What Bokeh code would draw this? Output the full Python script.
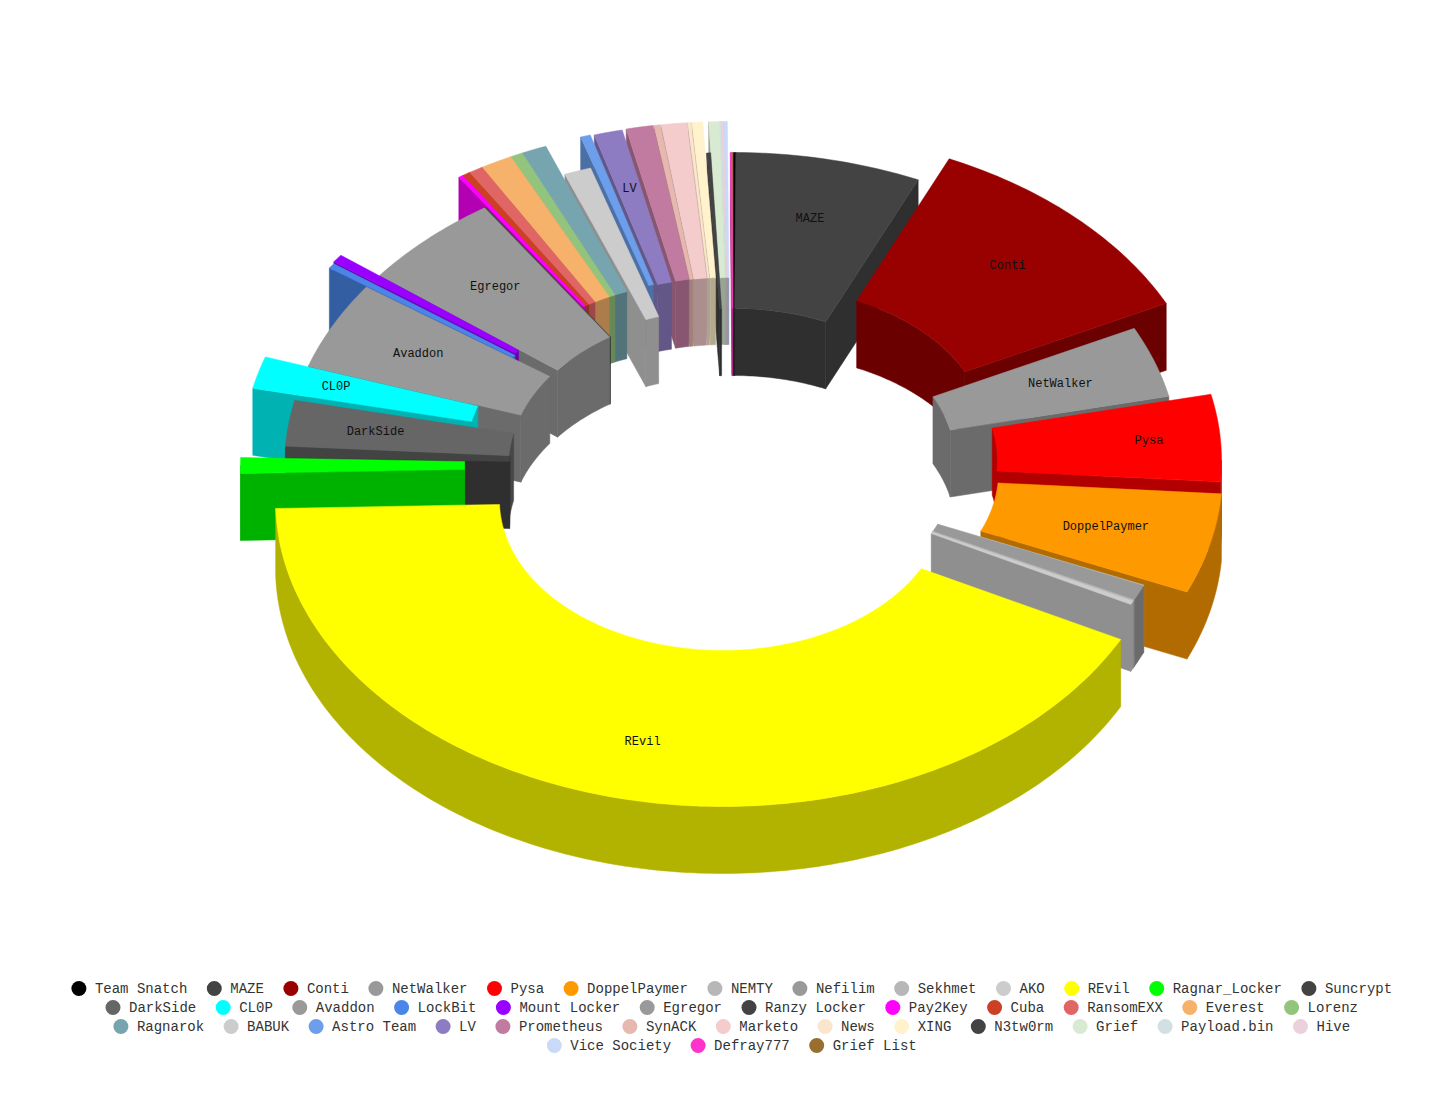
import math
from bokeh.plotting import figure
from bokeh.models import Range1d
from bokeh.core.properties import value
from bokeh.embed import file_html
from bokeh.resources import INLINE

# ---------- data ----------
names = ["Team Snatch", "MAZE", "Conti", "NetWalker", "Pysa", "DoppelPaymer", "NEMTY", "Nefilim", "Sekhmet", "AKO",
         "REvil", "Ragnar_Locker", "Suncrypt", "DarkSide", "CL0P", "Avaddon", "LockBit", "Mount Locker", "Egregor",
         "Ranzy Locker", "Pay2Key", "Cuba", "RansomEXX", "Everest", "Lorenz", "Ragnarok", "BABUK", "Astro Team", "LV",
         "Prometheus", "SynACK", "Marketo", "News", "XING", "N3tw0rm", "Grief", "Payload.bin", "Hive", "Vice Society",
         "Defray777", "Grief List"]
values = [0.3, 24.1, 39.6, 13.5, 16.5, 19.0, 0.2, 2.8, 0.3, 0.7,
          151.5, 3.0, 2.0, 8.8, 6.1, 16.6, 1.0, 1.5, 18.5,
          0.2, 0.6, 1.0, 1.9, 4.2, 1.6, 3.3, 3.5, 1.3, 3.7,
          3.5, 0.8, 3.3, 0.4, 1.4, 0.5, 1.4, 0.2, 0.3, 0.5, 0.2, 0.2]
colors = ["#000000", "#434343", "#990000", "#999999", "#ff0000", "#ff9900", "#b7b7b7", "#999999", "#b7b7b7", "#cccccc",
          "#ffff00", "#00ff00", "#434343", "#666666", "#00ffff", "#999999", "#4a86e8", "#9900ff", "#999999",
          "#434343", "#ff00ff", "#cc4125", "#e06666", "#f6b26b", "#93c47d", "#76a5af", "#cccccc", "#6d9eeb", "#8e7cc3",
          "#c27ba0", "#e6b8af", "#f4cccc", "#fce5cd", "#fff2cc", "#434343", "#d9ead3", "#d0e0e3", "#ead1dc", "#c9daf8",
          "#ff33cc", "#996f2f"]
# per-slice displacement of the exploded pieces (horizontal, vertical)
shift_x = [10, 10, 41, 9, 51, 52, 9, 9, 9, 9,
           -1, -36, 9, 8, -34, 9, -28, -28, 11,
           11, -16, -16, -16, -16, -16, -16, 3, -7, -3,
           1, 2, 3, 4, 5, 9, 7, 7, 7, 7, 10, 10]
shift_y = [-40, -40, -61, -36, -38, -26, -33, -33, -33, -33,
           2, -33, -33, -33, -45, -36, -55, -57, -37,
           -37, -67, -67, -67, -67, -67, -67, -39, -70, -70,
           -71, -71, -71, -71, -71, -40, -71, -71, -71, -71, -40, -40]
labelled = {"MAZE": 0.80, "Conti": 0.78, "NetWalker": 0.777, "Pysa": 0.84, "DoppelPaymer": 0.76, "REvil": 0.81,
            "DarkSide": 0.804, "CL0P": 0.82, "Avaddon": 0.787, "Egregor": 0.781, "LV": 0.81}
legend_rows = [13, 12, 13, 3]

# ---------- layout constants ----------
CX, CY = 723, 498
AO, BO, AI, BI = 447, 306, 223, 150
H = 67
MONO = "Liberation Mono"


def dim(c, k=0.7):
    return "#%02x%02x%02x" % tuple(int(round(int(c[i:i + 2], 16) * k)) for i in (1, 3, 5))


def pt(t, a, b, dx, dy, z=0):
    r = math.radians(t)
    return CX + dx + a * math.sin(r), CY + dy - b * math.cos(r) + z


def arc(t0, t1, a, b, dx, dy, z=0):
    n = max(2, int(abs(t1 - t0) / 1.0) + 2)
    return [pt(t0 + (t1 - t0) * i / (n - 1), a, b, dx, dy, z) for i in range(n)]


def wall(t0, t1, a, b, dx, dy):
    top = arc(t0, t1, a, b, dx, dy)
    return top + arc(t0, t1, a, b, dx, dy, H)[::-1]


def overlap(t0, t1, lo, hi):
    lo2, hi2 = max(t0, lo), min(t1, hi)
    return (lo2, hi2) if hi2 > lo2 else None


total = sum(values)
slices = []
acc = 0.0
for i, v in enumerate(values):
    t0 = acc / total * 360
    acc += v
    t1 = acc / total * 360
    slices.append((t0, t1, i))

# far slices first, near slices last
order = sorted(slices, key=lambda s: -math.cos(math.radians((s[0] + s[1]) / 2)))

xs, ys, fills = [], [], []


def add(poly, col):
    xs.append([q[0] for q in poly])
    ys.append([q[1] for q in poly])
    fills.append(col)


for t0, t1, i in order:
    dx, dy, c = shift_x[i], shift_y[i], colors[i]
    d = dim(c)
    # radial side faces
    if math.sin(math.radians(t1)) > 0:
        add([pt(t1, AI, BI, dx, dy), pt(t1, AO, BO, dx, dy), pt(t1, AO, BO, dx, dy, H), pt(t1, AI, BI, dx, dy, H)], d)
    if math.sin(math.radians(t0)) < 0:
        add([pt(t0, AI, BI, dx, dy), pt(t0, AO, BO, dx, dy), pt(t0, AO, BO, dx, dy, H), pt(t0, AI, BI, dx, dy, H)], d)
    # inner wall: back half of the hole
    for lo, hi in ((0, 90), (270, 360)):
        part = overlap(t0, t1, lo, hi)
        if part:
            add(wall(part[0], part[1], AI, BI, dx, dy), d)
    # outer wall: front half of the rim
    part = overlap(t0, t1, 90, 270)
    if part:
        add(wall(part[0], part[1], AO, BO, dx, dy), d)
    # top face
    add(arc(t0, t1, AO, BO, dx, dy) + arc(t0, t1, AI, BI, dx, dy)[::-1], c)

p = figure(width=1440, height=1083, x_range=Range1d(0, 1440), y_range=Range1d(1083, 0),
           output_backend="svg", toolbar_location=None, min_border=0, outline_line_color=None,
           background_fill_color="white", border_fill_color="white")
p.axis.visible = False
p.grid.visible = False
p.patches(xs, ys, fill_color=fills, line_color=fills, line_width=0.5)

# slice labels
lx, ly, lt = [], [], []
for t0, t1, i in slices:
    if names[i] in labelled:
        k = labelled[names[i]]
        x, y = pt((t0 + t1) / 2, AO * k, BO * k, shift_x[i], shift_y[i])
        lx.append(x)
        ly.append(y)
        lt.append(names[i])
p.text(lx, ly, text=lt, text_font=value(MONO), text_font_size="12px", text_color="#111111",
       text_align="center", text_baseline="middle")

# legend, centred rows
CW, GAP_T, GAP_N = 8.4, 16, 27
LEG_CX, LEG_Y, LEG_DY = 732, 988, 19
mx, my, mc, tx, ty, tt = [], [], [], [], [], []
start = 0
for row, count in enumerate(legend_rows):
    idx = list(range(start, start + count))
    start += count
    width = sum(GAP_T + len(names[j]) * CW for j in idx) + GAP_N * (len(idx) - 1)
    x = LEG_CX - width / 2 + 3
    y = LEG_Y + row * LEG_DY
    for j in idx:
        mx.append(x)
        my.append(y)
        mc.append(colors[j])
        tx.append(x + GAP_T)
        ty.append(y)
        tt.append(names[j])
        x += GAP_T + len(names[j]) * CW + GAP_N
p.scatter(mx, my, size=15, fill_color=mc, line_color=None, marker="circle")
p.text(tx, ty, text=tt, text_font=value(MONO), text_font_size="14px", text_color="#333333",
       text_align="left", text_baseline="middle")

open("out.html", "w").write(file_html(p, INLINE))
